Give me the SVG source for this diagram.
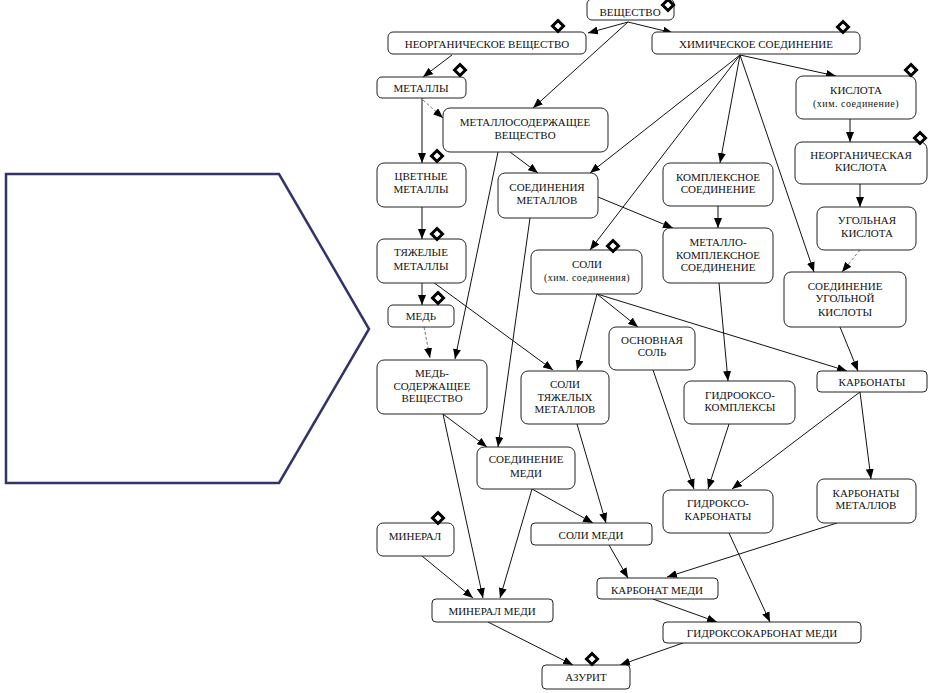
<svg xmlns="http://www.w3.org/2000/svg" xmlns:xlink="http://www.w3.org/1999/xlink" width="940" height="693" viewBox="0 0 940 693">
<style>
.b{fill:#fff;stroke:#222;stroke-width:1}
.t{font-family:"Liberation Serif","Times New Roman",serif;font-size:11px;fill:#111;text-anchor:middle}
.s{font-size:10px;letter-spacing:0.5px}
.e{fill:none;stroke:#111;stroke-width:1;marker-end:url(#a)}
.d{fill:none;stroke:#777;stroke-width:1;stroke-dasharray:3,2;marker-end:url(#a)}
</style>
<defs>
<marker id="a" markerWidth="10" markerHeight="8" refX="10" refY="4" orient="auto" markerUnits="userSpaceOnUse"><path d="M0,0 L10,4 L0,8 z" fill="#000"/></marker>
<path id="dm" d="M0,-5.5 L5.5,0 L0,5.5 L-5.5,0 Z" fill="#fff" stroke="#000" stroke-width="3"/>
</defs>
<rect width="940" height="693" fill="#fff"/>
<polygon points="6,174 279,174 369,329 279,483 6,483" fill="#fff" stroke="#33336b" stroke-width="2.5"/>

<g id="connectors">
<line class="e" x1="628" y1="22" x2="588" y2="33"/>
<line class="e" x1="628" y1="22" x2="673" y2="33"/>
<line class="e" x1="628" y1="22" x2="533" y2="108"/>
<line class="e" x1="452" y1="55" x2="423" y2="77"/>
<line class="d" x1="423" y1="100" x2="443" y2="118"/>
<line class="e" x1="422" y1="98" x2="422" y2="163"/>
<line class="e" x1="422" y1="207" x2="422" y2="239"/>
<line class="e" x1="422" y1="283" x2="422" y2="305"/>
<line class="e" x1="433" y1="282" x2="553" y2="370"/>
<line class="d" x1="424" y1="327" x2="430" y2="358"/>
<line class="e" x1="498" y1="152" x2="455" y2="359"/>
<line class="e" x1="510" y1="152" x2="538" y2="173"/>
<line class="e" x1="740" y1="55" x2="590" y2="173"/>
<line class="e" x1="740" y1="55" x2="590" y2="250"/>
<line class="e" x1="740" y1="55" x2="720" y2="163"/>
<line class="e" x1="740" y1="55" x2="814" y2="272"/>
<line class="e" x1="740" y1="55" x2="836" y2="76"/>
<line class="e" x1="850" y1="119" x2="850" y2="142"/>
<line class="e" x1="860" y1="184" x2="860" y2="207"/>
<line class="d" x1="860" y1="250" x2="842" y2="272"/>
<line class="e" x1="718" y1="206" x2="718" y2="228"/>
<line class="e" x1="598" y1="197" x2="673" y2="228"/>
<line class="e" x1="530" y1="218" x2="498" y2="447"/>
<line class="e" x1="597" y1="294" x2="577" y2="370"/>
<line class="e" x1="597" y1="294" x2="638" y2="327"/>
<line class="e" x1="597" y1="294" x2="847" y2="371"/>
<line class="e" x1="719" y1="283" x2="728" y2="381"/>
<line class="e" x1="840" y1="327" x2="858" y2="371"/>
<line class="e" x1="653" y1="370" x2="694" y2="489"/>
<line class="e" x1="729" y1="424" x2="708" y2="489"/>
<line class="e" x1="860" y1="392" x2="732" y2="489"/>
<line class="e" x1="860" y1="392" x2="871" y2="479"/>
<line class="e" x1="443" y1="414" x2="487" y2="447"/>
<line class="e" x1="443" y1="414" x2="483" y2="598"/>
<line class="e" x1="577" y1="424" x2="606" y2="523"/>
<line class="e" x1="532" y1="489" x2="593" y2="523"/>
<line class="e" x1="532" y1="489" x2="500" y2="598"/>
<line class="e" x1="422" y1="556" x2="473" y2="598"/>
<line class="e" x1="609" y1="545" x2="628" y2="578"/>
<line class="e" x1="837" y1="523" x2="667" y2="577"/>
<line class="e" x1="653" y1="599" x2="717" y2="622"/>
<line class="e" x1="729" y1="533" x2="770" y2="622"/>
<line class="e" x1="488" y1="622" x2="573" y2="665"/>
<line class="e" x1="683" y1="643" x2="620" y2="665"/>
</g>

<g id="n1"><rect class="b" x="587" y="-1" width="87" height="21" rx="5"/><text class="t" x="630" y="16">ВЕЩЕСТВО</text><use xlink:href="#dm" x="668" y="5"/></g>
<g id="n2"><rect class="b" x="388" y="32" width="198" height="22" rx="5"/><text class="t" x="487" y="48">НЕОРГАНИЧЕСКОЕ ВЕЩЕСТВО</text><use xlink:href="#dm" x="558" y="26"/></g>
<g id="n3"><rect class="b" x="652" y="32" width="208" height="22" rx="5"/><text class="t" x="756" y="48">ХИМИЧЕСКОЕ СОЕДИНЕНИЕ</text><use xlink:href="#dm" x="843" y="27"/></g>
<g id="n4"><rect class="b" x="377" y="77" width="89" height="21" rx="5"/><text class="t" x="421" y="92">МЕТАЛЛЫ</text><use xlink:href="#dm" x="460" y="70"/></g>
<g id="n5"><rect class="b" x="443" y="108" width="165" height="44" rx="7"/><text class="t" x="525" y="126">МЕТАЛЛОСОДЕРЖАЩЕЕ</text><text class="t" x="525" y="139">ВЕЩЕСТВО</text></g>
<g id="n6"><rect class="b" x="796" y="76" width="120" height="43" rx="7"/><text class="t" x="856" y="94">КИСЛОТА</text><text class="t s" x="856" y="107">(хим. соединение)</text><use xlink:href="#dm" x="911" y="70"/></g>
<g id="n7"><rect class="b" x="795" y="142" width="132" height="42" rx="7"/><text class="t" x="861" y="159">НЕОРГАНИЧЕСКАЯ</text><text class="t" x="861" y="171">КИСЛОТА</text><use xlink:href="#dm" x="920" y="138"/></g>
<g id="n8"><rect class="b" x="377" y="163" width="89" height="44" rx="7"/><text class="t" x="421" y="180">ЦВЕТНЫЕ</text><text class="t" x="421" y="193">МЕТАЛЛЫ</text><use xlink:href="#dm" x="437" y="156"/></g>
<g id="n9"><rect class="b" x="498" y="173" width="100" height="45" rx="7"/><text class="t" x="547" y="191">СОЕДИНЕНИЯ</text><text class="t" x="547" y="204">МЕТАЛЛОВ</text></g>
<g id="n10"><rect class="b" x="663" y="163" width="110" height="43" rx="7"/><text class="t" x="718" y="181">КОМПЛЕКСНОЕ</text><text class="t" x="718" y="193">СОЕДИНЕНИЕ</text></g>
<g id="n11"><rect class="b" x="817" y="207" width="99" height="43" rx="7"/><text class="t" x="867" y="224">УГОЛЬНАЯ</text><text class="t" x="867" y="237">КИСЛОТА</text></g>
<g id="n12"><rect class="b" x="377" y="239" width="89" height="44" rx="7"/><text class="t" x="421" y="256">ТЯЖЕЛЫЕ</text><text class="t" x="421" y="270">МЕТАЛЛЫ</text><use xlink:href="#dm" x="437" y="234"/></g>
<g id="n13"><rect class="b" x="663" y="228" width="110" height="55" rx="7"/><text class="t" x="718" y="246">МЕТАЛЛО-</text><text class="t" x="718" y="259">КОМПЛЕКСНОЕ</text><text class="t" x="718" y="271">СОЕДИНЕНИЕ</text></g>
<g id="n14"><rect class="b" x="531" y="250" width="111" height="44" rx="7"/><text class="t" x="587" y="268">СОЛИ</text><text class="t s" x="587" y="281">(хим. соединения)</text><use xlink:href="#dm" x="613" y="246"/></g>
<g id="n15"><rect class="b" x="784" y="272" width="122" height="55" rx="7"/><text class="t" x="845" y="290">СОЕДИНЕНИЕ</text><text class="t" x="845" y="302">УГОЛЬНОЙ</text><text class="t" x="845" y="316">КИСЛОТЫ</text></g>
<g id="n16"><rect class="b" x="388" y="305" width="66" height="22" rx="5"/><text class="t" x="421" y="320">МЕДЬ</text><use xlink:href="#dm" x="438" y="298"/></g>
<g id="n17"><rect class="b" x="609" y="327" width="86" height="43" rx="7"/><text class="t" x="652" y="344">ОСНОВНАЯ</text><text class="t" x="652" y="356">СОЛЬ</text></g>
<g id="n18"><rect class="b" x="377" y="360" width="110" height="54" rx="7"/><text class="t" x="432" y="377">МЕДЬ-</text><text class="t" x="432" y="390">СОДЕРЖАЩЕЕ</text><text class="t" x="432" y="402">ВЕЩЕСТВО</text></g>
<g id="n19"><rect class="b" x="521" y="371" width="88" height="53" rx="7"/><text class="t" x="565" y="388">СОЛИ</text><text class="t" x="565" y="401">ТЯЖЕЛЫХ</text><text class="t" x="565" y="413">МЕТАЛЛОВ</text></g>
<g id="n20"><rect class="b" x="817" y="371" width="110" height="21" rx="4"/><text class="t" x="872" y="386">КАРБОНАТЫ</text></g>
<g id="n21"><rect class="b" x="684" y="381" width="111" height="43" rx="7"/><text class="t" x="740" y="399">ГИДРООКСО-</text><text class="t" x="740" y="411">КОМПЛЕКСЫ</text></g>
<g id="n22"><rect class="b" x="477" y="447" width="98" height="42" rx="7"/><text class="t" x="526" y="463">СОЕДИНЕНИЕ</text><text class="t" x="526" y="477">МЕДИ</text></g>
<g id="n23"><rect class="b" x="817" y="479" width="99" height="44" rx="7"/><text class="t" x="866" y="497">КАРБОНАТЫ</text><text class="t" x="866" y="509">МЕТАЛЛОВ</text></g>
<g id="n24"><rect class="b" x="663" y="490" width="110" height="43" rx="7"/><text class="t" x="718" y="507">ГИДРОКСО-</text><text class="t" x="718" y="520">КАРБОНАТЫ</text></g>
<g id="n25"><rect class="b" x="377" y="523" width="77" height="33" rx="6"/><text class="t" x="415" y="540">МИНЕРАЛ</text><use xlink:href="#dm" x="438" y="518"/></g>
<g id="n26"><rect class="b" x="531" y="523" width="121" height="22" rx="4"/><text class="t" x="591" y="539">СОЛИ МЕДИ</text></g>
<g id="n27"><rect class="b" x="597" y="578" width="121" height="21" rx="4"/><text class="t" x="657" y="594">КАРБОНАТ МЕДИ</text></g>
<g id="n28"><rect class="b" x="432" y="599" width="121" height="23" rx="4"/><text class="t" x="492" y="615">МИНЕРАЛ МЕДИ</text></g>
<g id="n29"><rect class="b" x="663" y="622" width="198" height="21" rx="4"/><text class="t" x="762" y="637">ГИДРОКСОКАРБОНАТ МЕДИ</text></g>
<g id="n30"><rect class="b" x="542" y="665" width="88" height="24" rx="4"/><text class="t" x="586" y="681">АЗУРИТ</text><use xlink:href="#dm" x="592" y="659"/></g>
</svg>
